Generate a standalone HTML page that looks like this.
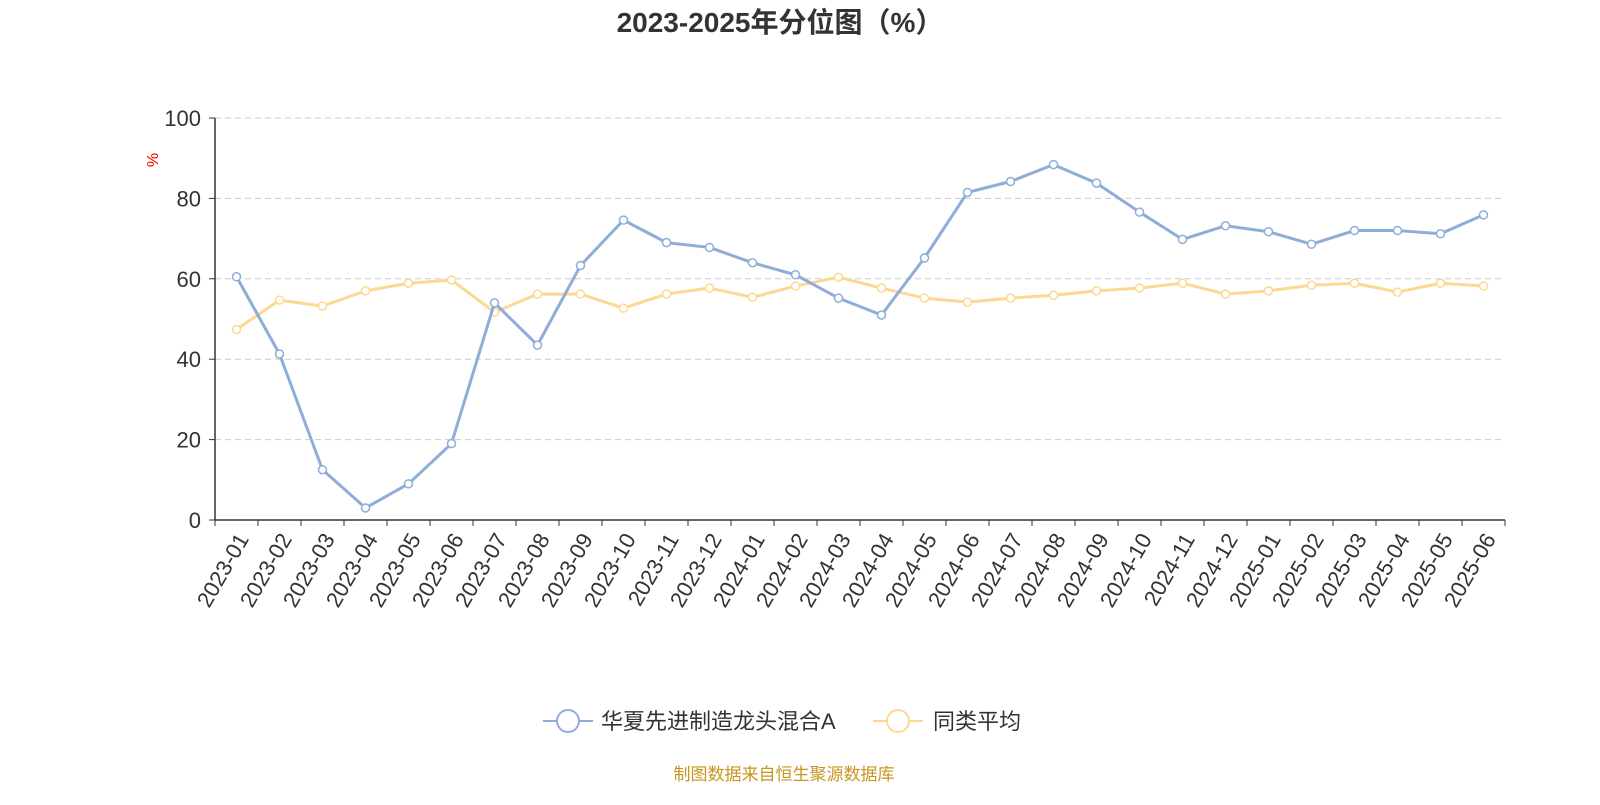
<!DOCTYPE html>
<html><head><meta charset="utf-8"><style>
body{margin:0;background:#fff;width:1600px;height:800px;overflow:hidden;font-family:"Liberation Sans","Noto Sans CJK SC",sans-serif}
</style></head><body>
<svg id="c" width="1600" height="800" style="font-family:'Liberation Sans','Noto Sans CJK SC',sans-serif">
<text x="780" y="32" text-anchor="middle" font-size="28" font-weight="bold" fill="#333">2023-2025年分位图（%）</text>
<text x="158" y="160" text-anchor="middle" font-size="16" fill="#e00" transform="rotate(-90 158 160)">%</text>
<g id="grid"></g><g id="axes"></g><g id="series"></g>
<g>
<g><line x1="543" y1="721" x2="593" y2="721" stroke="#8eadd9" stroke-width="2"/><circle cx="568" cy="721" r="11" fill="#fff" stroke="#8eadd9" stroke-width="2"/><text x="601" y="729" font-size="22" fill="#333">华夏先进制造龙头混合A</text></g>
<g><line x1="873" y1="721" x2="923" y2="721" stroke="#fdd892" stroke-width="2"/><circle cx="898" cy="721" r="11" fill="#fff" stroke="#fdd892" stroke-width="2"/><text x="933" y="729" font-size="22" fill="#333">同类平均</text></g>
</g>
<text x="784" y="780" text-anchor="middle" font-size="17" fill="#c8961e">制图数据来自恒生聚源数据库</text>
</svg>
<script>
const categories=["2023-01","2023-02","2023-03","2023-04","2023-05","2023-06","2023-07","2023-08","2023-09","2023-10","2023-11","2023-12","2024-01","2024-02","2024-03","2024-04","2024-05","2024-06","2024-07","2024-08","2024-09","2024-10","2024-11","2024-12","2025-01","2025-02","2025-03","2025-04","2025-05","2025-06"];
const fundValues=[60.5,41.3,12.5,3,9,19,54,43.5,63.3,74.6,69,67.8,64,61,55.2,51,65.2,81.5,84.2,88.4,83.8,76.6,69.8,73.2,71.7,68.6,72,72,71.2,75.9];
const avgValues=[47.4,54.7,53.2,57,58.9,59.7,51.7,56.2,56.2,52.7,56.2,57.7,55.4,58.2,60.4,57.7,55.2,54.2,55.2,55.9,57,57.7,58.9,56.2,57,58.4,58.9,56.7,58.9,58.2];
const yTicks=[0,20,40,60,80,100];
const NS="http://www.w3.org/2000/svg";
const L=215,R=1505,T=118,B=520;
const bw=(R-L)/categories.length;
const x=i=>L+bw*(i+0.5);
const y=v=>B-(v/100)*(B-T);
function mk(tag,attrs,parent){const e=document.createElementNS(NS,tag);for(const k in attrs)e.setAttribute(k,attrs[k]);parent.appendChild(e);return e;}
const grid=document.getElementById('grid'),axes=document.getElementById('axes'),series=document.getElementById('series');
yTicks.forEach(t=>{
 if(t>0){const g=mk('line',{x1:L,x2:R,y1:y(t),y2:y(t),stroke:'#ccc','stroke-dasharray':'6,4'},grid);
 
 }
 const tk=mk('line',{x1:L-6,x2:L,y1:y(t),y2:y(t),stroke:'#333'},axes);
 
 
 const lb=mk('text',{x:L-14,y:y(t)+8,'text-anchor':'end','font-size':22,fill:'#333'},axes);lb.textContent=t;
 
 
});
const ya=mk('line',{x1:L,x2:L,y1:T,y2:B,stroke:'#333','stroke-width':1.5},axes);


const xa=mk('line',{x1:L,x2:R,y1:B,y2:B,stroke:'#333','stroke-width':1.5},axes);


for(let i=0;i<=categories.length;i++){const tk=mk('line',{x1:L+bw*i,x2:L+bw*i,y1:B,y2:B+6,stroke:'#333'},axes);
 
 }
categories.forEach((c,i)=>{const px=x(i)+8,py=B+16;
 const lb=mk('text',{x:px,y:py,'text-anchor':'end','font-size':22,fill:'#333',transform:`rotate(-60 ${px} ${py})`,'dominant-baseline':'middle'},axes);lb.textContent=c;
 
 });
function draw(vals,color,name){
 const p=mk('polyline',{points:vals.map((v,i)=>x(i)+','+y(v)).join(' '),fill:'none',stroke:color,'stroke-width':3,'stroke-linejoin':'round'},series);
 
 
 vals.forEach((v,i)=>{const c=mk('circle',{cx:x(i),cy:y(v),r:4,fill:'#fff',stroke:color,'stroke-width':1.5},series);
 
 });
}
draw(avgValues,'#fdd892','average');
draw(fundValues,'#8eadd9','fund');
</script>
</body></html>
